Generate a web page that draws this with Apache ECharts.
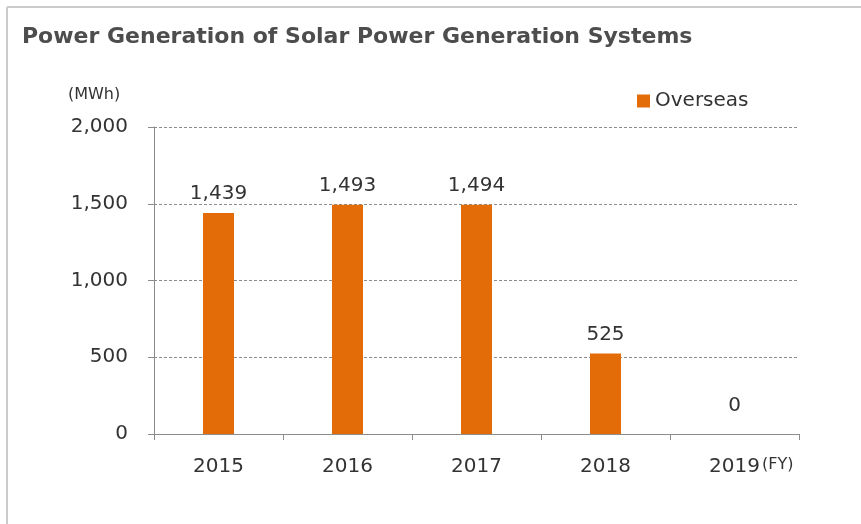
<!DOCTYPE html>
<html>
<head>
<meta charset="utf-8">
<script src="https://cdn.jsdelivr.net/npm/echarts@6/dist/echarts.min.js"></script>
<style>html,body{margin:0;padding:0;background:#fff;}#c{width:861px;height:524px;}</style>
</head>
<body>
<div id="c"></div>
<script>
const categories = ['2015', '2016', '2017', '2018', '2019'];
const overseasValues = [1439, 1493, 1494, 525, 0];
const yTicks = [0, 500, 1000, 1500, 2000];
const seriesName = 'Overseas';
const titleText = 'Power Generation of Solar Power Generation Systems';

const chart = echarts.init(document.getElementById('c'), null, {renderer: 'canvas'});
const font = 'DejaVu Sans';
const fmt = v => v.toLocaleString('en-US');

chart.setOption({
  animation: false,
  backgroundColor: '#fff',
  title: {
    text: titleText,
    left: 17, top: 21,
    textStyle: {fontFamily: font, fontSize: 22, fontWeight: 'bold', color: '#4d4d4d'}
  },
  legend: {
    data: [seriesName],
    left: 632, top: 86,
    icon: 'rect', itemWidth: 13, itemHeight: 13, itemGap: 8,
    textStyle: {fontFamily: font, fontSize: 20, color: '#333'}
  },
  graphic: [
    {type: 'line', shape: {x1: 7, y1: 7, x2: 861, y2: 7}, style: {stroke: '#cccccc', lineWidth: 2}},
    {type: 'line', shape: {x1: 7, y1: 7, x2: 7, y2: 524}, style: {stroke: '#cccccc', lineWidth: 2}},
    {type: 'text', left: 68, top: 87, style: {text: '(MWh)', fontFamily: font, fontSize: 16, fill: '#333'}},
    {type: 'text', left: 762, top: 457, style: {text: '(FY)', fontFamily: font, fontSize: 16, fill: '#333'}}
  ],
  grid: {left: 154, right: 62, top: 127, bottom: 90},
  xAxis: {
    type: 'category',
    data: categories,
    axisLine: {lineStyle: {color: '#8c8c8c', width: 1}},
    axisTick: {show: true, length: 6, alignWithLabel: false, lineStyle: {color: '#8c8c8c'}},
    axisLabel: {fontFamily: font, fontSize: 20, color: '#333', margin: 23}
  },
  yAxis: {
    type: 'value',
    min: yTicks[0], max: yTicks[yTicks.length - 1], interval: yTicks[1] - yTicks[0],
    axisLine: {show: true, lineStyle: {color: '#8c8c8c', width: 1}},
    axisTick: {show: true, length: 6, lineStyle: {color: '#8c8c8c'}},
    splitLine: {show: true, lineStyle: {color: '#8c8c8c', type: [3, 2], width: 1}},
    axisLabel: {fontFamily: font, fontSize: 20, color: '#333', margin: 26, formatter: v => fmt(v)}
  },
  series: [{
    name: seriesName,
    type: 'bar',
    barWidth: 31,
    itemStyle: {color: '#E36C09'},
    label: {
      show: true, position: 'top', distance: 9,
      fontFamily: font, fontSize: 20, color: '#333',
      formatter: p => fmt(p.value)
    },
    data: overseasValues.map(v => v === 0 ? {value: v, label: {distance: 18}} : v)
  }]
});
</script>
</body>
</html>
